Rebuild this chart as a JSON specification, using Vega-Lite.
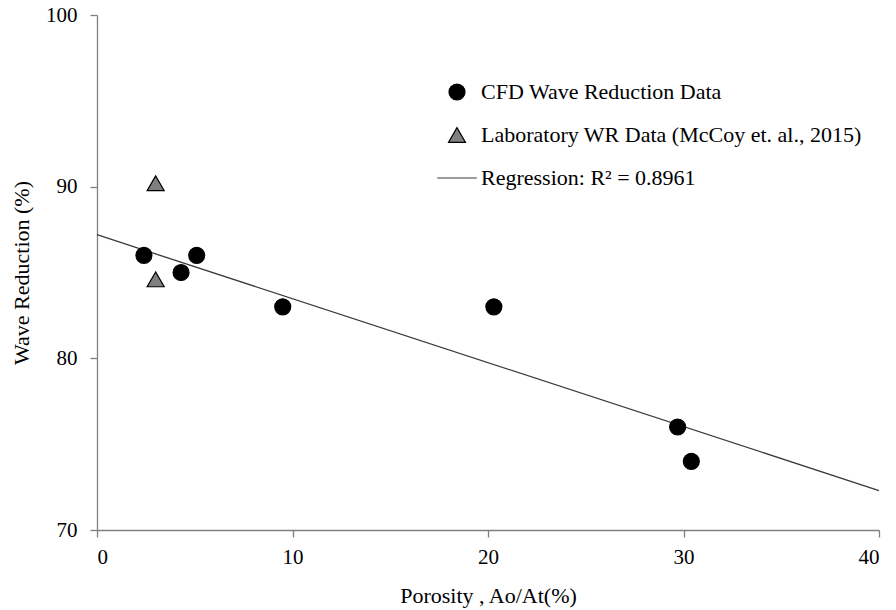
{
  "$schema": "https://vega.github.io/schema/vega-lite/v6.json",
  "width": 782,
  "height": 515,
  "autosize": {"type": "none"},
  "padding": {"left": 97, "top": 15, "right": 17, "bottom": 80},
  "background": "white",
  "datasets": {
    "observations": [
      {"porosity": 2.4, "reduction": 86.0, "series": "CFD Wave Reduction Data"},
      {"porosity": 4.3, "reduction": 85.0, "series": "CFD Wave Reduction Data"},
      {"porosity": 5.1, "reduction": 86.0, "series": "CFD Wave Reduction Data"},
      {"porosity": 9.5, "reduction": 83.0, "series": "CFD Wave Reduction Data"},
      {"porosity": 20.3, "reduction": 83.0, "series": "CFD Wave Reduction Data"},
      {"porosity": 29.7, "reduction": 76.0, "series": "CFD Wave Reduction Data"},
      {"porosity": 30.4, "reduction": 74.0, "series": "CFD Wave Reduction Data"},
      {"porosity": 3.0, "reduction": 90.2, "series": "Laboratory WR Data (McCoy et. al., 2015)"},
      {"porosity": 3.0, "reduction": 84.6, "series": "Laboratory WR Data (McCoy et. al., 2015)"}
    ],
    "fit": [
      {"porosity": 0, "reduction": 87.2},
      {"porosity": 40, "reduction": 72.3}
    ]
  },
  "layer": [
    {
      "data": {"name": "fit"},
      "mark": {"type": "line", "color": "#3a3a3a", "strokeWidth": 1.3},
      "encoding": {
        "x": {"field": "porosity", "type": "quantitative"},
        "y": {"field": "reduction", "type": "quantitative"}
      }
    },
    {
      "data": {"name": "observations"},
      "mark": {"type": "point", "filled": true, "opacity": 1, "strokeWidth": 1.2},
      "encoding": {
        "x": {
          "field": "porosity",
          "type": "quantitative",
          "scale": {"domain": [0, 40], "nice": false, "zero": false},
          "axis": {"values": [0, 10, 20, 30, 40], "title": "Porosity , Ao/At(%)"}
        },
        "y": {
          "field": "reduction",
          "type": "quantitative",
          "scale": {"domain": [70, 100], "nice": false, "zero": false},
          "axis": {"values": [70, 80, 90, 100], "title": "Wave Reduction (%)"}
        },
        "shape": {
          "field": "series",
          "type": "nominal",
          "scale": {
            "domain": ["CFD Wave Reduction Data", "Laboratory WR Data (McCoy et. al., 2015)", "Regression:  R² = 0.8961"],
            "range": ["circle", "triangle-up", "M-2.2,0H2.2"]
          },
          "legend": {"title": null}
        },
        "fill": {
          "field": "series",
          "type": "nominal",
          "scale": {
            "domain": ["CFD Wave Reduction Data", "Laboratory WR Data (McCoy et. al., 2015)", "Regression:  R² = 0.8961"],
            "range": ["#000000", "#808080", "transparent"]
          },
          "legend": {"title": null}
        },
        "stroke": {
          "field": "series",
          "type": "nominal",
          "scale": {
            "domain": ["CFD Wave Reduction Data", "Laboratory WR Data (McCoy et. al., 2015)", "Regression:  R² = 0.8961"],
            "range": ["#000000", "#000000", "#3a3a3a"]
          },
          "legend": {"title": null}
        },
        "size": {
          "field": "series",
          "type": "nominal",
          "scale": {
            "domain": ["CFD Wave Reduction Data", "Laboratory WR Data (McCoy et. al., 2015)", "Regression:  R² = 0.8961"],
            "range": [256, 324, 256]
          },
          "legend": {"title": null}
        }
      }
    }
  ],
  "config": {
    "view": {"stroke": null},
    "font": "Liberation Serif",
    "axis": {
      "grid": false,
      "domainColor": "#7f7f7f",
      "domainWidth": 1.3,
      "tickColor": "#7f7f7f",
      "tickWidth": 1.3,
      "tickSize": 7,
      "labelFont": "Liberation Serif",
      "labelFontSize": 21,
      "labelColor": "#000000",
      "titleFont": "Liberation Serif",
      "titleFontSize": 22,
      "titleFontWeight": "normal",
      "titleColor": "#000000"
    },
    "axisX": {"labelPadding": 9, "titlePadding": 18},
    "axisY": {"labelPadding": 13, "titlePadding": 12},
    "legend": {
      "orient": "none",
      "legendX": 349,
      "legendY": 66,
      "padding": 0,
      "labelFont": "Liberation Serif",
      "labelFontSize": 22,
      "labelColor": "#000000",
      "labelOffset": 13,
      "rowPadding": 21,
      "symbolStrokeWidth": 1.2,
      "labelLimit": 500
    }
  }
}
